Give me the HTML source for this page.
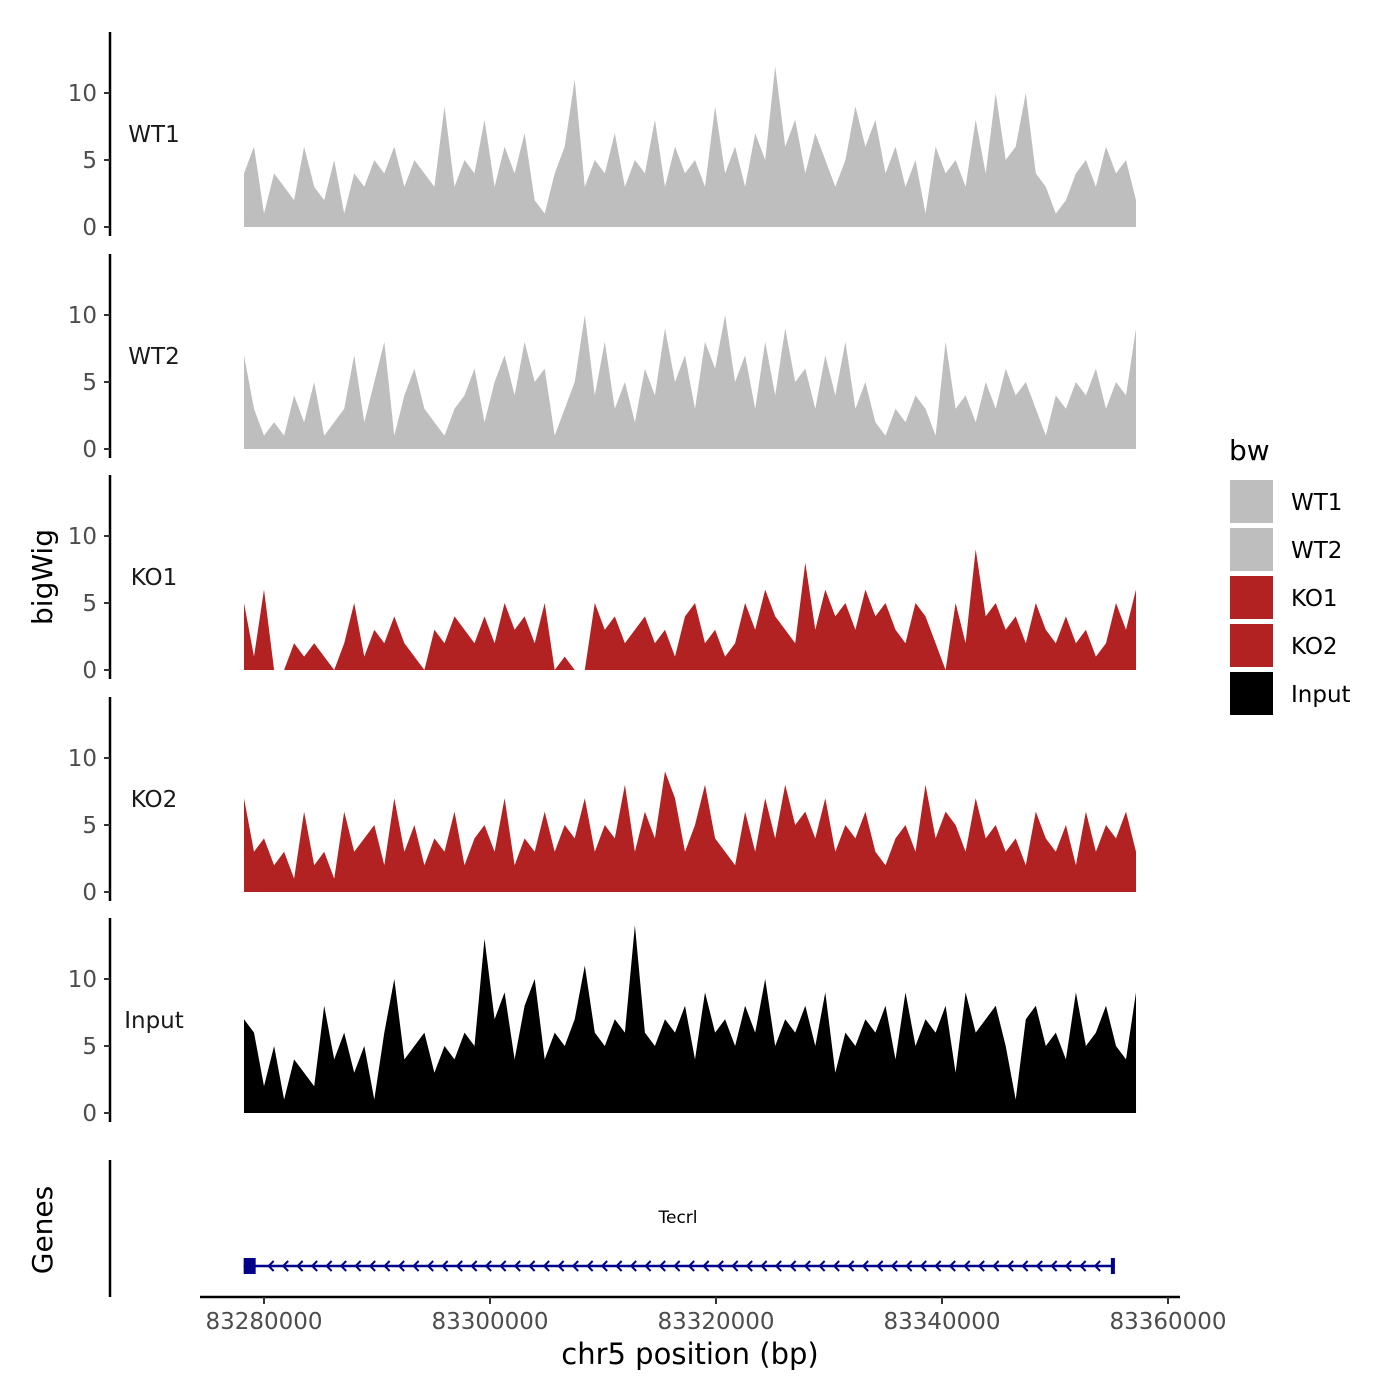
<!DOCTYPE html>
<html><head><meta charset="utf-8">
<style>
body{margin:0;background:#fff;}
svg{display:block;font-family:"DejaVu Sans","Liberation Sans",sans-serif;}
</style></head>
<body>
<svg id="chart" width="1400" height="1400" viewBox="0 0 1400 1400" xmlns="http://www.w3.org/2000/svg">
<rect width="1400" height="1400" fill="#fff"/>
<g id="tracks"></g>
<g id="genes"></g>
<text x="52" y="577" font-size="28" text-anchor="middle" transform="rotate(-90 52 577)" fill="#000">bigWig</text>
<text x="52" y="1230" font-size="28" text-anchor="middle" transform="rotate(-90 52 1230)" fill="#000">Genes</text>
<text x="690" y="1364" font-size="29" text-anchor="middle" fill="#000">chr5 position (bp)</text>
<g>
<text x="1229" y="460" font-size="28" fill="#000">bw</text>
<g id="legend-items"></g>
</g>
</svg>
<script>
const tracks = ["WT1","WT2","KO1","KO2","Input"];
const colors = ["#bebebe","#bebebe","#b22222","#b22222","#000000"];
const yTicks = [0,5,10];
const xTicks = [83280000,83300000,83320000,83340000,83360000];
const startPos = 83278230, endPos = 83357170;
const wt1 = [4,6,1,4,3,2,6,3,2,5,1,4,3,5,4,6,3,5,4,3,9,3,5,4,8,3,6,4,7,2,1,4,6,11,3,5,4,7,3,5,4,8,3,6,4,5,3,9,4,6,3,7,5,12,6,8,4,7,5,3,5,9,6,8,4,6,3,5,1,6,4,5,3,8,4,10,5,6,10,4,3,1,2,4,5,3,6,4,5,2];
const wt2 = [7,3,1,2,1,4,2,5,1,2,3,7,2,5,8,1,4,6,3,2,1,3,4,6,2,5,7,4,8,5,6,1,3,5,10,4,8,3,5,2,6,4,9,5,7,3,8,6,10,5,7,3,8,4,9,5,6,3,7,4,8,3,5,2,1,3,2,4,3,1,8,3,4,2,5,3,6,4,5,3,1,4,3,5,4,6,3,5,4,9];
const ko1 = [5,1,6,0,0,2,1,2,1,0,2,5,1,3,2,4,2,1,0,3,2,4,3,2,4,2,5,3,4,2,5,0,1,0,0,5,3,4,2,3,4,2,3,1,4,5,2,3,1,2,5,3,6,4,3,2,8,3,6,4,5,3,6,4,5,3,2,5,4,2,0,5,2,9,4,5,3,4,2,5,3,2,4,2,3,1,2,5,3,6];
const ko2 = [7,3,4,2,3,1,6,2,3,1,6,3,4,5,2,7,3,5,2,4,3,6,2,4,5,3,7,2,4,3,6,3,5,4,7,3,5,4,8,3,6,4,9,7,3,5,8,4,3,2,6,3,7,4,8,5,6,4,7,3,5,4,6,3,2,4,5,3,8,4,6,5,3,7,4,5,3,4,2,6,4,3,5,2,6,3,5,4,6,3];
const input = [7,6,2,5,1,4,3,2,8,4,6,3,5,1,6,10,4,5,6,3,5,4,6,5,13,7,9,4,8,10,4,6,5,7,11,6,5,7,6,14,6,5,7,6,8,4,9,6,7,5,8,6,10,5,7,6,8,5,9,3,6,5,7,6,8,4,9,5,7,6,8,3,9,6,7,8,5,1,7,8,5,6,4,9,5,6,8,5,4,9];
const series = [wt1,wt2,ko1,ko2,input];
const geneStart = 83278200, geneEnd = 83355300, geneName = "Tecrl";

const NS="http://www.w3.org/2000/svg";
function mk(tag, attrs, parent, txt){const e=document.createElementNS(NS,tag);for(const k in attrs)e.setAttribute(k,attrs[k]);if(txt!==undefined)e.textContent=txt;parent.appendChild(e);return e;}
function xScale(p){return 264 + (p-83280000)*(1168-264)/80000;}
const zeros=[227,449,670,892,1113];
const unit=13.4;
const g=document.getElementById('tracks');
tracks.forEach((t,i)=>{
  const z=zeros[i];
  const yS=v=>z-v*unit;
  const grp=mk('g',{},g);
  
  
  const ax=mk('line',{x1:110,x2:110,y1:z-195,y2:z+9,stroke:'#000','stroke-width':2.5},grp);
  
  
  yTicks.forEach(v=>{
    mk('line',{x1:104,x2:110,y1:yS(v),y2:yS(v),stroke:'#333','stroke-width':2},grp);
    const tl=mk('text',{x:97,y:yS(v)+8,'font-size':23,'text-anchor':'end',fill:'#4d4d4d'},grp,String(v));
    
    
  });
  const lab=mk('text',{x:154,y:z-85,'font-size':23,'text-anchor':'middle',fill:'#1a1a1a'},grp,t);
  
  
  const d=series[i];
  const n=d.length;
  let pts=[xScale(startPos)+','+z];
  d.forEach((v,j)=>{const p=startPos+(endPos-startPos)*j/(n-1);pts.push(xScale(p).toFixed(1)+','+yS(v).toFixed(1));});
  pts.push(xScale(endPos)+','+z);
  const area=mk('polygon',{points:pts.join(' '),fill:colors[i]},grp);
  
  
});
const gg=document.getElementById('genes');
const gax=mk('line',{x1:110,x2:110,y1:1160,y2:1297,stroke:'#000','stroke-width':2.5},gg);


const xax=mk('line',{x1:200,x2:1180,y1:1297,y2:1297,stroke:'#000','stroke-width':2.5},gg);


xTicks.forEach(p=>{
  mk('line',{x1:xScale(p),x2:xScale(p),y1:1297,y2:1304,stroke:'#333','stroke-width':2},gg);
  const tl=mk('text',{x:xScale(p),y:1329,'font-size':23,'text-anchor':'middle',fill:'#4d4d4d'},gg,String(p));
  
  
});
const gs=xScale(geneStart), ge=xScale(geneEnd);
const gl=mk('line',{x1:gs,x2:ge,y1:1266,y2:1266,stroke:'#00008b','stroke-width':2.5},gg);


mk('rect',{x:gs,y:1258,width:12,height:16,fill:'#00008b'},gg);
mk('rect',{x:ge-4,y:1258,width:4,height:16,fill:'#00008b'},gg);
for(let x=gs+26;x<ge-8;x+=14.5){mk('polyline',{points:`${x+4},${1261} ${x-1},${1266} ${x+4},${1271}`,fill:'none',stroke:'#00008b','stroke-width':2},gg);}
const gn=mk('text',{x:678,y:1223,'font-size':17,'text-anchor':'middle',fill:'#000'},gg,geneName);


const lg=document.getElementById('legend-items');
tracks.forEach((t,i)=>{
  const y=480+i*48;
  const r=mk('rect',{x:1230,y:y,width:43,height:43,fill:colors[i]},lg);
  
  
  const tx=mk('text',{x:1291,y:y+30,'font-size':23,fill:'#000'},lg,t);
  
  
});
</script>
</body></html>
